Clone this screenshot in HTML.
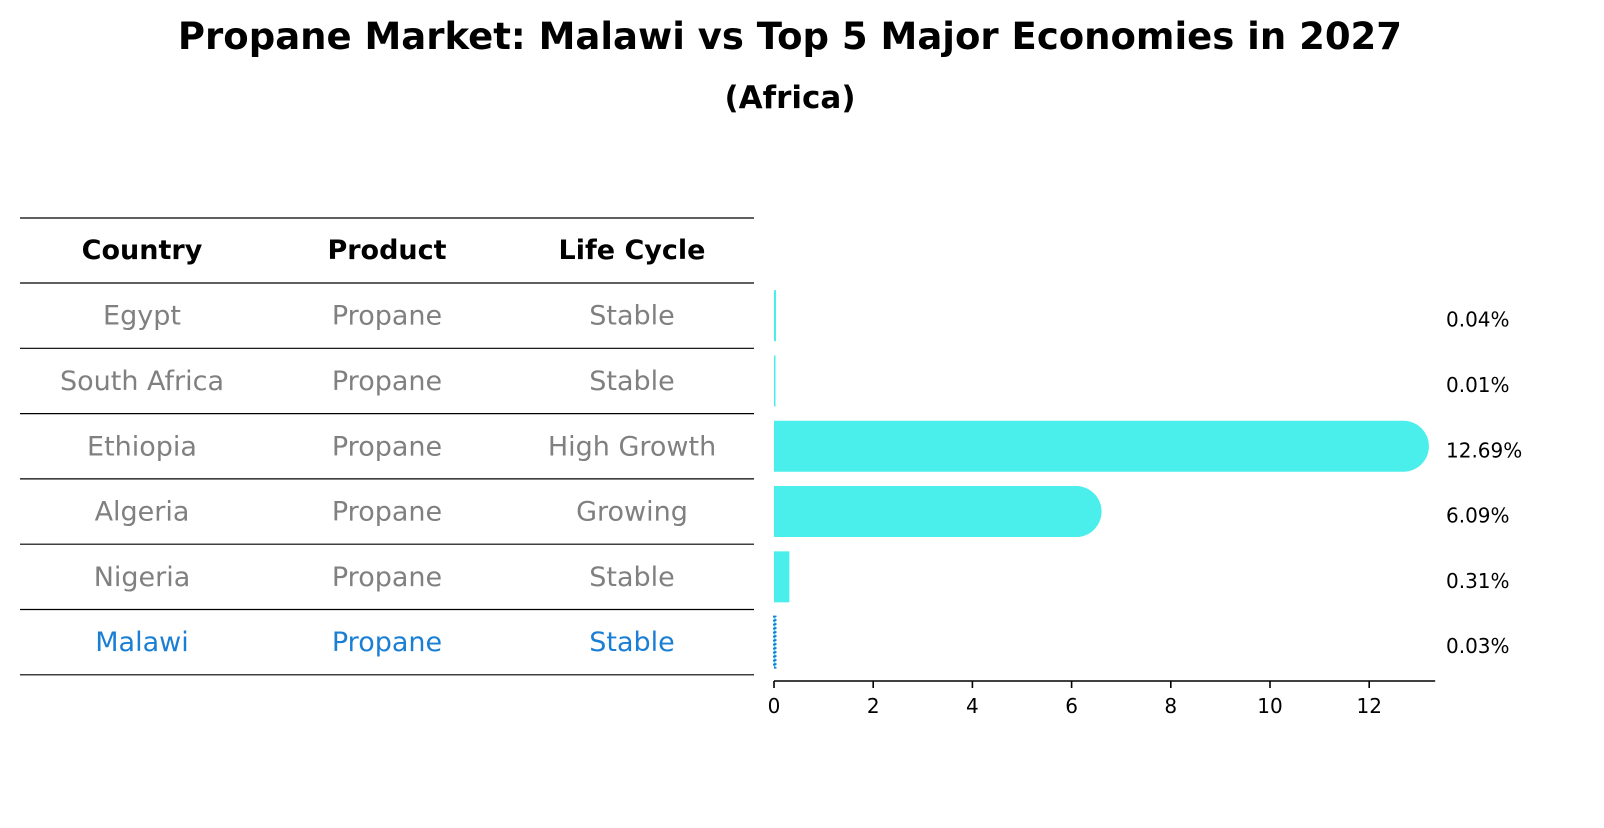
<!DOCTYPE html>
<html><head><meta charset="utf-8"><style>
body{margin:0;background:#fff;font-family:"Liberation Sans","DejaVu Sans",sans-serif}
svg text{font-family:"DejaVu Sans","Liberation Sans",sans-serif}
</style></head><body>
<svg width="1604" height="823" viewBox="0 0 1604 823" xmlns="http://www.w3.org/2000/svg">
<text x="790" y="49" text-anchor="middle" font-size="37" font-weight="bold">Propane Market: Malawi vs Top 5 Major Economies in 2027</text>
<text x="790" y="108" text-anchor="middle" font-size="31" font-weight="bold">(Africa)</text>
<g id="table"></g>
<g id="bars"></g>
<g id="axis"></g>
</svg>
<script>
const countries=["Egypt","South Africa","Ethiopia","Algeria","Nigeria","Malawi"];
const products=["Propane","Propane","Propane","Propane","Propane","Propane"];
const lifeCycles=["Stable","Stable","High Growth","Growing","Stable","Stable"];
const shares=[0.04,0.01,12.69,6.09,0.31,0.03];
const valueLabels=["0.04%","0.01%","12.69%","6.09%","0.31%","0.03%"];
const xTicks=[0,2,4,6,8,10,12];
const NS="http://www.w3.org/2000/svg";
function mk(tag,attrs,parent){const e=document.createElementNS(NS,tag);for(const k in attrs)e.setAttribute(k,attrs[k]);parent.appendChild(e);return e;}
const x0=774,pxPer=49.6,xMax=13.33;
const xs=v=>x0+v*pxPer;
const rowTop=283,rowH=65.3;
const yc=i=>rowTop+rowH*(i+0.5);
const table=document.getElementById('table');
const colX=[142,387,632];
const headers=["Country","Product","Life Cycle"];
headers.forEach((h,j)=>{const t=mk('text',{x:colX[j],y:259,'text-anchor':'middle','font-size':27,'font-weight':'bold'},table);t.textContent=h;

});
for(let i=0;i<=countries.length+1;i++){const y=i==0?218:rowTop+rowH*(i-1);
const l=mk('line',{x1:20,x2:754,y1:y,y2:y,stroke:'#000','stroke-width':1.2},table);

}
countries.forEach((c,i)=>{const col=c==="Malawi"?"#1a7fd4":"#808080";
[c,products[i],lifeCycles[i]].forEach((v,j)=>{const t=mk('text',{x:colX[j],y:yc(i)+9,'text-anchor':'middle','font-size':27,fill:col},table);t.textContent=v;

});});
const bars=document.getElementById('bars');
const bh=51;
shares.forEach((v,i)=>{const w=Math.max(xs(v)-x0,1.5);const y=yc(i)-bh/2;let el;
if(v>1){const r=bh/2;el=mk('path',{d:`M${x0},${y} H${x0+w} A${r},${r} 0 0 1 ${x0+w},${y+bh} H${x0} Z`,fill:'#4aeeea'},bars);}
else if(countries[i]==="Malawi"){el=mk('rect',{x:x0,y:y,width:w,height:bh,fill:'#4aeeea',stroke:'#1a7fd4','stroke-width':2,'stroke-dasharray':'2,2'},bars);}
else el=mk('rect',{x:x0,y:y,width:w,height:bh,fill:'#4aeeea'},bars);


const t=mk('text',{x:1446,y:yc(i)+11,'font-size':20,fill:'#000'},bars);t.textContent=valueLabels[i];

});
const axis=document.getElementById('axis');
const al=mk('line',{x1:x0,x2:xs(xMax),y1:681,y2:681,stroke:'#000','stroke-width':1.6},axis);


xTicks.forEach(v=>{const tk=mk('line',{x1:xs(v),x2:xs(v),y1:681,y2:688,stroke:'#000','stroke-width':1.6},axis);


const t=mk('text',{x:xs(v),y:713,'text-anchor':'middle','font-size':20},axis);t.textContent=v;

});
</script>
</body></html>
